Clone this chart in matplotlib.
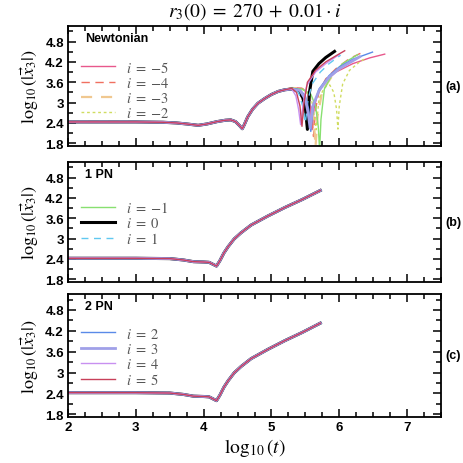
import matplotlib
matplotlib.use("Agg")
import matplotlib.pyplot as plt
from matplotlib.ticker import MultipleLocator

plt.rcParams['mathtext.fontset'] = 'stix'
plt.rcParams['font.family'] = ['Liberation Sans', 'DejaVu Sans']

# ---------------- data ----------------
i_values = [-5, -4, -3, -2, -1, 0, 1, 2, 3, 4, 5]

# common early part of Newtonian runs
newt_base_x = [2.0, 2.5, 3.0, 3.4, 3.6, 3.75, 3.92, 4.05, 4.2, 4.32, 4.4, 4.47,
               4.53, 4.57, 4.6, 4.65, 4.72, 4.8, 4.9, 5.0, 5.1, 5.2]
newt_base_y = [2.43, 2.43, 2.43, 2.42, 2.40, 2.37, 2.33, 2.37, 2.44, 2.48, 2.49, 2.44,
               2.32, 2.23, 2.35, 2.58, 2.80, 2.98, 3.12, 3.24, 3.33, 3.38]

# divergent Newtonian tails (after log10 t = 5.2)
tail_x = {
    -5: [5.3, 5.45, 5.53, 5.57, 5.6, 5.63, 5.68, 5.78, 5.95, 6.2, 6.45, 6.67],
    -4: [5.3, 5.45, 5.54, 5.59, 5.62, 5.65, 5.7, 5.8, 5.95, 6.15, 6.35],
    -3: [5.3, 5.45, 5.55, 5.6, 5.63, 5.65, 5.68, 5.75, 5.9, 6.05, 6.2],
    -2: [5.3, 5.45, 5.55, 5.6, 5.63, 5.66, 5.7, 5.78, 5.86, 5.92, 5.96, 5.98,
         6.0, 6.05, 6.15, 6.3, 6.4],
    -1: [5.3, 5.45, 5.58, 5.65, 5.69, 5.71, 5.73, 5.78, 5.9, 6.05, 6.27],
    0: [5.3, 5.4, 5.46, 5.5, 5.53, 5.56, 5.61, 5.7, 5.8, 5.93],
    1: [5.3, 5.4, 5.46, 5.5, 5.54, 5.6, 5.72, 5.85, 6.02],
    2: [5.3, 5.42, 5.5, 5.55, 5.58, 5.62, 5.7, 5.85, 6.0, 6.2, 6.49],
    3: [5.3, 5.42, 5.5, 5.54, 5.57, 5.61, 5.7, 5.85, 6.0, 6.3],
    4: [5.3, 5.36, 5.4, 5.43, 5.47, 5.52, 5.65, 5.8, 6.0],
    5: [5.3, 5.37, 5.42, 5.45, 5.48, 5.53, 5.65, 5.8, 5.95, 6.08],
}
tail_y = {
    -5: [3.44, 3.42, 3.30, 2.90, 2.20, 2.85, 3.25, 3.60, 3.90, 4.15, 4.32, 4.43],
    -4: [3.43, 3.42, 3.30, 2.90, 2.00, 2.80, 3.30, 3.70, 4.00, 4.30, 4.49],
    -3: [3.43, 3.42, 3.25, 2.90, 2.30, 1.70, 2.60, 3.35, 3.80, 4.10, 4.30],
    -2: [3.42, 3.40, 3.25, 3.00, 2.60, 2.20, 3.10, 3.45, 3.52, 3.30, 2.80, 2.22,
         2.90, 3.55, 3.95, 4.20, 4.32],
    -1: [3.42, 3.40, 3.25, 2.90, 2.30, 1.60, 2.50, 3.40, 3.85, 4.15, 4.41],
    0: [3.40, 3.35, 3.15, 2.85, 2.21, 3.30, 3.92, 4.15, 4.33, 4.51],
    1: [3.41, 3.30, 2.90, 2.40, 3.10, 3.55, 3.90, 4.15, 4.40],
    2: [3.41, 3.38, 3.20, 2.80, 2.15, 2.90, 3.40, 3.80, 4.05, 4.28, 4.49],
    3: [3.40, 3.36, 3.10, 2.70, 2.25, 2.90, 3.35, 3.75, 4.00, 4.35],
    4: [3.40, 3.20, 2.80, 2.35, 3.00, 3.50, 3.90, 4.15, 4.42],
    5: [3.42, 3.30, 2.90, 2.30, 3.00, 3.60, 3.95, 4.20, 4.38, 4.53],
}

# post-Newtonian runs (all i practically identical)
pn_x = [2.0, 3.0, 3.5, 3.7, 3.85, 4.0, 4.08, 4.14, 4.19, 4.24, 4.3, 4.36,
        4.45, 4.55, 4.7, 4.95, 5.2, 5.45, 5.72]
pn_y = [2.42, 2.42, 2.41, 2.37, 2.32, 2.31, 2.30, 2.24, 2.19, 2.35, 2.58, 2.76,
        2.99, 3.17, 3.40, 3.67, 3.92, 4.15, 4.42]

# ---------------- styles ----------------
styles = {
    -5: dict(color='#e8588c', ls='-', lw=1.0),
    -4: dict(color='#f07060', ls=(0, (6, 4)), lw=1.0),
    -3: dict(color='#f0c890', ls=(0, (5, 4)), lw=1.6),
    -2: dict(color='#d0dc60', ls=(0, (2, 2)), lw=1.0),
    -1: dict(color='#88e070', ls='-', lw=1.0),
    0: dict(color='#000000', ls='-', lw=2.2),
    1: dict(color='#60c8f0', ls=(0, (5, 4)), lw=1.0),
    2: dict(color='#5a8ae8', ls='-', lw=1.0),
    3: dict(color='#a0a0e8', ls='-', lw=2.0),
    4: dict(color='#c890f0', ls='-', lw=1.0),
    5: dict(color='#c8405a', ls='-', lw=1.0),
}

fig = plt.figure(figsize=(4.64, 4.64), dpi=100)
W = 464.0
def rect(top, bottom, left=68, right=441):
    return [left / W, 1 - bottom / W, (right - left) / W, (bottom - top) / W]

ax_a = fig.add_axes(rect(27, 147))
ax_b = fig.add_axes(rect(163, 283))
ax_c = fig.add_axes(rect(295, 418))
axes = [ax_a, ax_b, ax_c]

legend_groups = [[-5, -4, -3, -2], [-1, 0, 1], [2, 3, 4, 5]]
legend_anchor_y = [0.72, 0.685, 0.735]
titles = ['Newtonian', '1 PN', '2 PN']
panel_labels = ['(a)', '(b)', '(c)']

for k, ax in enumerate(axes):
    handles = {}
    for i in i_values:
        if k == 0:
            xs = newt_base_x + tail_x[i]
            ys = newt_base_y + tail_y[i]
        else:
            xs = pn_x
            ys = pn_y
        ln, = ax.plot(xs, ys, **styles[i])
        handles[i] = ln
    hs = [handles[i] for i in legend_groups[k]]
    labels = [f'$i\\;=\\;{{{i}}}$' for i in legend_groups[k]]
    leg = ax.legend(hs, labels, loc='upper left',
                    bbox_to_anchor=(0.035, legend_anchor_y[k]),
                    frameon=False, fontsize=10.5, handlelength=2.3,
                    handletextpad=0.8, labelspacing=0.08, borderaxespad=0.0,
                    borderpad=0.0)
    for t in leg.get_texts():
        t.set_color('#555555')
    ax.set_xlim(2, 7.5)
    ax.set_ylim(1.72, 5.26)
    ax.xaxis.set_major_locator(MultipleLocator(1))
    ax.xaxis.set_minor_locator(MultipleLocator(0.25))
    ax.yaxis.set_major_locator(MultipleLocator(0.6))
    ax.yaxis.set_minor_locator(MultipleLocator(0.3))
    ax.tick_params(which='both', direction='in', top=True, right=True,
                   width=1.1, labelsize=9.5)
    ax.tick_params(which='major', length=6, pad=3)
    ax.tick_params(which='minor', length=3.5)
    ax.set_yticks([1.8, 2.4, 3.0, 3.6, 4.2, 4.8])
    ax.set_yticklabels(['1.8', '2.4', '3', '3.6', '4.2', '4.8'])
    for lab in ax.get_yticklabels() + ax.get_xticklabels():
        lab.set_fontweight('bold')
    for s in ax.spines.values():
        s.set_linewidth(1.3)
    ax.set_ylabel(r'$\log_{10}(|\vec{x}_3|)$', fontsize=13, labelpad=3)
    ax.text(0.045, 0.95, titles[k], transform=ax.transAxes, fontsize=9,
            fontweight='bold', va='top', ha='left')
    ax.text(1.013, 0.5, panel_labels[k], transform=ax.transAxes, fontsize=9,
            fontweight='bold', va='center', ha='left')
    if k < 2:
        ax.tick_params(labelbottom=False)

ax_c.set_xlabel(r'$\log_{10}(t)$', fontsize=14, labelpad=2)
fig.text((68 + 441) / 2 / W, 1 - 12 / W,
         r'$r_3(0)\;=\;270\;+\;0.01\cdot i$',
         ha='center', va='center', fontsize=14)

fig.savefig('out.png', dpi=100)
